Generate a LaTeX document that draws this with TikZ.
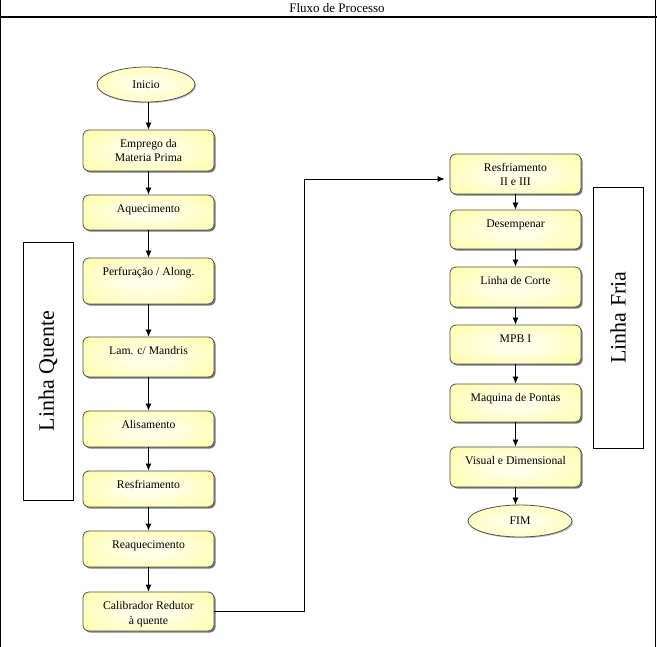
\documentclass[tikz,border=0pt]{standalone}
\usepackage{fontspec}
\setmainfont{Liberation Serif}
\usetikzlibrary{shapes.geometric,shadows,arrows.meta}
\definecolor{yin}{RGB}{255,255,232}
\definecolor{yout}{RGB}{255,252,145}
\definecolor{boxline}{RGB}{80,80,80}
\pgfdeclareradialshading{yshade}{\pgfpoint{0bp}{0bp}}{color(0bp)=(yin); color(8bp)=(yin); color(45bp)=(yout); color(100bp)=(yout)}
\newcommand\bt[2]{\parbox[c][#1pt][t]{131pt}{\centering\rule{0pt}{17.5pt}#2}}
\tikzset{
  procbox/.style={draw=boxline, line width=0.8pt, rounded corners=6pt, inner sep=0pt,
    shade, shading=yshade,
    drop shadow={shadow xshift=1.6pt, shadow yshift=-1.6pt, fill=black!70, opacity=0.75},
    font=\fontsize{11.7}{14.5}\selectfont},
  termnode/.style={ellipse, draw=boxline, line width=0.8pt, inner sep=0pt,
    shade, shading=yshade,
    drop shadow={shadow xshift=1.2pt, shadow yshift=-1.2pt, fill=black!50, opacity=0.5},
    font=\fontsize{11.7}{14}\selectfont},
  sidebox/.style={draw=black, line width=0.9pt, fill=white, inner sep=0pt, rotate=90,
    minimum height=50pt, font=\fontsize{22}{26}\selectfont},
  flowarrow/.style={draw=black, line width=0.8pt, -{Latex[length=7pt,width=6pt]}},
}
\begin{document}
\begin{tikzpicture}[x=1pt,y=-1pt]
\useasboundingbox (0,0) rectangle (657,647);
% frame
\draw[line width=1pt] (0.5,0) -- (0.5,647);
\draw[line width=1pt] (655.5,0) -- (655.5,647);
\draw[line width=2.2pt] (0,17) -- (657,17);
\node[font=\fontsize{13}{15}\selectfont] (title) at (337,8) {Fluxo de Processo};

% side labels
\node[sidebox, minimum width=258pt] (lq) at (48,371) {Linha Quente};
\node[sidebox, minimum width=261pt] (lf) at (618,317.5) {Linha Fria};

% left column
\node[termnode, minimum width=98pt, minimum height=35pt] (ini) at (146,84.5) {Inicio};
\node[procbox] (emp) at (148.5,150.5) {\bt{41}{Emprego da\\Materia Prima}};
\node[procbox] (aq) at (148.5,212.5) {\bt{35}{Aquecimento}};
\node[procbox] (perf) at (148.5,281) {\bt{46}{Perfuração / Along.}};
\node[procbox] (lam) at (148.5,357) {\bt{40}{Lam. c/ Mandris}};
\node[procbox] (alis) at (148.5,429) {\bt{36}{Alisamento}};
\node[procbox] (resf) at (148.5,489) {\bt{36}{Resfriamento}};
\node[procbox] (reaq) at (148.5,549) {\bt{36}{Reaquecimento}};
\node[procbox] (cal) at (148.5,611.5) {\bt{39}{Calibrador Redutor\\à quente}};

% right column
\node[procbox] (r2) at (515.5,174) {\bt{40}{Resfriamento\\II e III}};
\node[procbox] (des) at (515.5,229.5) {\bt{39}{Desempenar}};
\node[procbox] (corte) at (515.5,287) {\bt{40}{Linha de Corte}};
\node[procbox] (mpb) at (515.5,344.5) {\bt{39}{MPB I}};
\node[procbox] (maq) at (515.5,403) {\bt{38}{Maquina de Pontas}};
\node[procbox] (vis) at (515.5,467) {\bt{40}{Visual e Dimensional}};
\node[termnode, minimum width=104pt, minimum height=32pt] (fim) at (520,521) {FIM};

% connectors left
\draw[flowarrow] (emp.north |- ini.south) -- (emp.north);
\draw[flowarrow] (emp.south) -- (aq.north);
\draw[flowarrow] (aq.south) -- (perf.north);
\draw[flowarrow] (perf.south) -- (lam.north);
\draw[flowarrow] (lam.south) -- (alis.north);
\draw[flowarrow] (alis.south) -- (resf.north);
\draw[flowarrow] (resf.south) -- (reaq.north);
\draw[flowarrow] (reaq.south) -- (cal.north);

% cross connector
\coordinate (turn) at (304,179);
\draw[flowarrow, shorten >=5pt] (cal.east) -| (turn) -- (r2.west |- turn);

% connectors right
\draw[flowarrow] (r2.south) -- (des.north);
\draw[flowarrow] (des.south) -- (corte.north);
\draw[flowarrow] (corte.south) -- (mpb.north);
\draw[flowarrow] (mpb.south) -- (maq.north);
\draw[flowarrow] (maq.south) -- (vis.north);
\draw[flowarrow] (vis.south) -- (vis.south |- fim.north);
\end{tikzpicture}
\end{document}
